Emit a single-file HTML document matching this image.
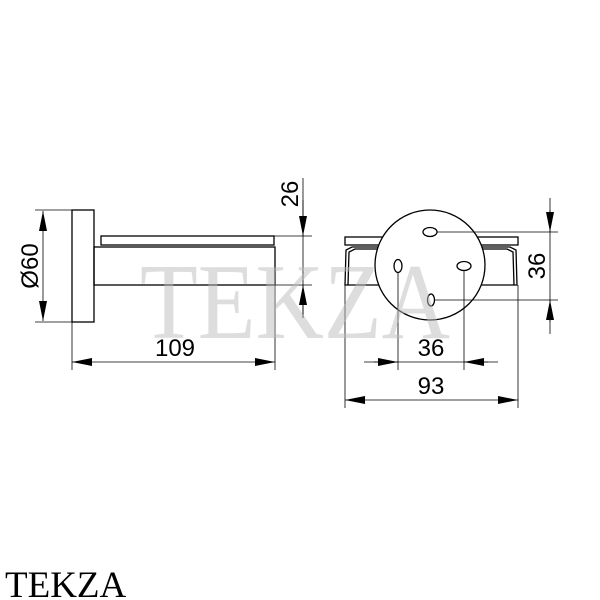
<!DOCTYPE html>
<html><head><style>html,body{margin:0;padding:0;background:#fff;}svg{display:block;}</style></head>
<body>
<svg width="600" height="600" viewBox="0 0 600 600" xmlns="http://www.w3.org/2000/svg" font-family="Liberation Sans, sans-serif">
<defs>
<marker id="a" viewBox="0 0 20 8" refX="20" refY="4" markerWidth="20" markerHeight="8" markerUnits="userSpaceOnUse" orient="auto-start-reverse"><path d="M0,0L20,4L0,8z" fill="#000"/></marker>
</defs>
<g fill="none" stroke="#000" stroke-width="1.3">
<rect x="72" y="210" width="22" height="112"/>
<rect x="101" y="236" width="173" height="9"/>
<rect x="94" y="247" width="181" height="38"/>
</g>
<g fill="none" stroke="#000" stroke-width="0.8">
<line x1="35" y1="210" x2="72" y2="210"/><line x1="35" y1="322" x2="72" y2="322"/>
<line x1="43" y1="211" x2="43" y2="321" marker-start="url(#a)" marker-end="url(#a)"/>
<line x1="274" y1="236" x2="312" y2="236"/><line x1="275" y1="285" x2="312" y2="285"/>
<line x1="303" y1="178" x2="303" y2="318"/>
<line x1="303" y1="200" x2="303" y2="236" marker-end="url(#a)"/>
<line x1="303" y1="318" x2="303" y2="285" marker-end="url(#a)"/>
<line x1="72" y1="322" x2="72" y2="370"/><line x1="275" y1="285" x2="275" y2="370"/>
<line x1="72" y1="362" x2="275" y2="362" marker-start="url(#a)" marker-end="url(#a)"/>
</g>
<g fill="none" stroke="#000" stroke-width="1.3">
<rect x="345" y="237" width="173" height="8"/>
<path d="M345,285L346,250L352,247L510,247L516,250L517,285Z" fill="#fff"/>
<path d="M348,285L349,252L355,249L507,249L513,252L514,285"/>
<circle cx="430" cy="265" r="55" fill="#fff"/>
<ellipse cx="430" cy="232" rx="7" ry="4.5"/>
<ellipse cx="398" cy="266" rx="4" ry="6.5"/>
<ellipse cx="464" cy="266" rx="7" ry="4.5"/>
<ellipse cx="431" cy="300" rx="3.5" ry="6"/>
</g>
<g fill="none" stroke="#000" stroke-width="0.8">
<line x1="437" y1="232" x2="558" y2="232"/><line x1="435" y1="300" x2="558" y2="300"/>
<line x1="550" y1="198" x2="550" y2="334"/>
<line x1="550" y1="210" x2="550" y2="232" marker-end="url(#a)"/>
<line x1="550" y1="322" x2="550" y2="300" marker-end="url(#a)"/>
<line x1="398" y1="272" x2="398" y2="370"/><line x1="464" y1="270" x2="464" y2="370"/>
<line x1="364" y1="362" x2="498" y2="362"/>
<line x1="374" y1="362" x2="398" y2="362" marker-end="url(#a)"/>
<line x1="488" y1="362" x2="464" y2="362" marker-end="url(#a)"/>
<line x1="345" y1="285" x2="345" y2="408"/><line x1="518" y1="285" x2="518" y2="408"/>
<line x1="345" y1="400" x2="518" y2="400" marker-start="url(#a)" marker-end="url(#a)"/>
</g>
<text x="140" y="338" font-family="Liberation Serif, serif" font-size="108" fill="#bbb" fill-opacity="0.5" textLength="310" lengthAdjust="spacingAndGlyphs">TEKZA</text>
<g font-size="24" fill="#000">
<text transform="translate(38,266) rotate(-90)" text-anchor="middle">Ø60</text>
<text transform="translate(298,194) rotate(-90)" text-anchor="middle">26</text>
<text x="175" y="356" text-anchor="middle">109</text>
<text transform="translate(545,266) rotate(-90)" text-anchor="middle">36</text>
<text x="431" y="356" text-anchor="middle">36</text>
<text x="431" y="394" text-anchor="middle">93</text>
</g>
<text x="5" y="597" font-family="Liberation Serif, serif" font-size="37" fill="#000">TEKZA</text>
</svg>
</body></html>
